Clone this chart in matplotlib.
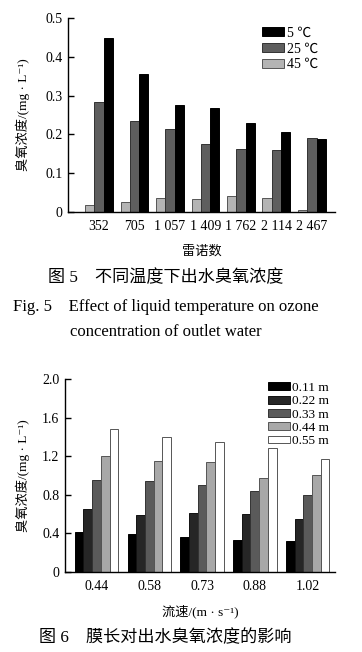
import numpy as np
import matplotlib
matplotlib.use("Agg")
import matplotlib.pyplot as plt

plt.rcParams['font.family'] = ['Liberation Serif', 'Noto Sans CJK SC', 'DejaVu Serif']

# Fig. 5 data
re_labels = ["352", "705", "1 057", "1 409", "1 762", "2 114", "2 467"]
t45 = [0.017, 0.026, 0.035, 0.033, 0.040, 0.035, 0.004]
t25 = [0.284, 0.235, 0.213, 0.175, 0.162, 0.159, 0.190]
t5 = [0.448, 0.356, 0.277, 0.267, 0.229, 0.205, 0.187]

# Fig. 6 data
speed_labels = ["0.44", "0.58", "0.73", "0.88", "1.02"]
len_labels = ["0.11 m", "0.22 m", "0.33 m", "0.44 m", "0.55 m"]
l011 = [0.41, 0.39, 0.36, 0.335, 0.32]
l022 = [0.653, 0.594, 0.608, 0.601, 0.546]
l033 = [0.953, 0.940, 0.898, 0.839, 0.798]
l044 = [1.199, 1.147, 1.136, 0.970, 1.005]
l055 = [1.478, 1.395, 1.344, 1.280, 1.167]

W, H = 362, 652
fig = plt.figure(figsize=(W / 100, H / 100), dpi=100)

def box(x0, x1, ytop, ybot):
    return [x0 / W, 1 - ybot / H, (x1 - x0) / W, (ybot - ytop) / H]

def style(ax):
    for s in ["top", "right"]:
        ax.spines[s].set_visible(False)
    for s in ["left", "bottom"]:
        ax.spines[s].set_linewidth(1.0)
    ax.tick_params(axis="y", direction="in", length=4, width=1, labelsize=10, pad=4)
    ax.tick_params(axis="x", length=0, labelsize=10, pad=6)

# ---- chart 1
ax1 = fig.add_axes(box(68, 335, 18, 212))
x = np.arange(len(re_labels))
bw = 0.262
ax1.bar(x - bw, t45, bw, color="#b4b4b4", edgecolor="#555555", lw=0.7, label="45 ℃")
ax1.bar(x, t25, bw, color="#5e5e5e", edgecolor="#333333", lw=0.7, label="25 ℃")
ax1.bar(x + bw, t5, bw, color="#000000", edgecolor="#000000", lw=0.7, label="5 ℃")
ax1.set_xlim(-0.873, 6.65)
ax1.set_ylim(0, 0.5)
ax1.set_yticks([0, 0.1, 0.2, 0.3, 0.4, 0.5])
ax1.set_yticklabels(["0", "0.1", "0.2", "0.3", "0.4", "0.5"])
ax1.set_xticks(x)
ax1.set_xticklabels(re_labels)
style(ax1)
ax1.set_ylabel("臭氧浓度/(mg · L⁻¹)", fontsize=9.5)
ax1.yaxis.set_label_coords(-0.142, 0.5)
ax1.set_xlabel("雷诺数", fontsize=9.5)
ax1.xaxis.set_label_coords(0.5, -0.17)
h, l = ax1.get_legend_handles_labels()
ax1.legend(h[::-1], l[::-1], loc="upper left", bbox_to_anchor=(0.727, 0.955),
           frameon=False, fontsize=10, handlelength=1.6, handleheight=0.6,
           handletextpad=0.2, labelspacing=0.2, borderpad=0, borderaxespad=0)

# ---- captions fig 5
fig.text(166 / W, 1 - 278 / H, "图 5　不同温度下出水臭氧浓度", ha="center", va="center", fontsize=12.3)
fig.text(13 / W, 1 - 307 / H, "Fig. 5　Effect of liquid temperature on ozone", ha="left", va="center", fontsize=12)
fig.text(70 / W, 1 - 332 / H, "concentration of outlet water", ha="left", va="center", fontsize=12)

# ---- chart 2
ax2 = fig.add_axes(box(65, 335, 379, 572))
x2 = np.arange(len(speed_labels))
bw2 = 0.165
series = [l011, l022, l033, l044, l055]
colors = ["#000000", "#262626", "#5a5a5a", "#a8a8a8", "#ffffff"]
edges = ["#000000", "#111111", "#333333", "#555555", "#555555"]
for i, (vals, c, e, lab) in enumerate(zip(series, colors, edges, len_labels)):
    ax2.bar(x2 + (i - 2) * bw2, vals, bw2, color=c, edgecolor=e, lw=0.7, label=lab)
ax2.set_xlim(-0.597, 4.52)
ax2.set_ylim(0, 2.0)
ax2.set_yticks([0, 0.4, 0.8, 1.2, 1.6, 2.0])
ax2.set_yticklabels(["0", "0.4", "0.8", "1.2", "1.6", "2.0"])
ax2.set_xticks(x2)
ax2.set_xticklabels(speed_labels)
style(ax2)
ax2.set_ylabel("臭氧浓度/(mg · L⁻¹)", fontsize=9.5)
ax2.yaxis.set_label_coords(-0.13, 0.5)
ax2.set_xlabel("流速/(m · s⁻¹)", fontsize=9.5)
ax2.xaxis.set_label_coords(0.5, -0.171)
ax2.legend(loc="upper left", bbox_to_anchor=(0.752, 0.985),
           frameon=False, fontsize=9.5, handlelength=1.7, handleheight=0.55,
           handletextpad=0.15, labelspacing=0.1, borderpad=0, borderaxespad=0)

fig.text(165 / W, 1 - 638 / H, "图 6　膜长对出水臭氧浓度的影响", ha="center", va="center", fontsize=12.3)

fig.savefig("out.png", dpi=100)
